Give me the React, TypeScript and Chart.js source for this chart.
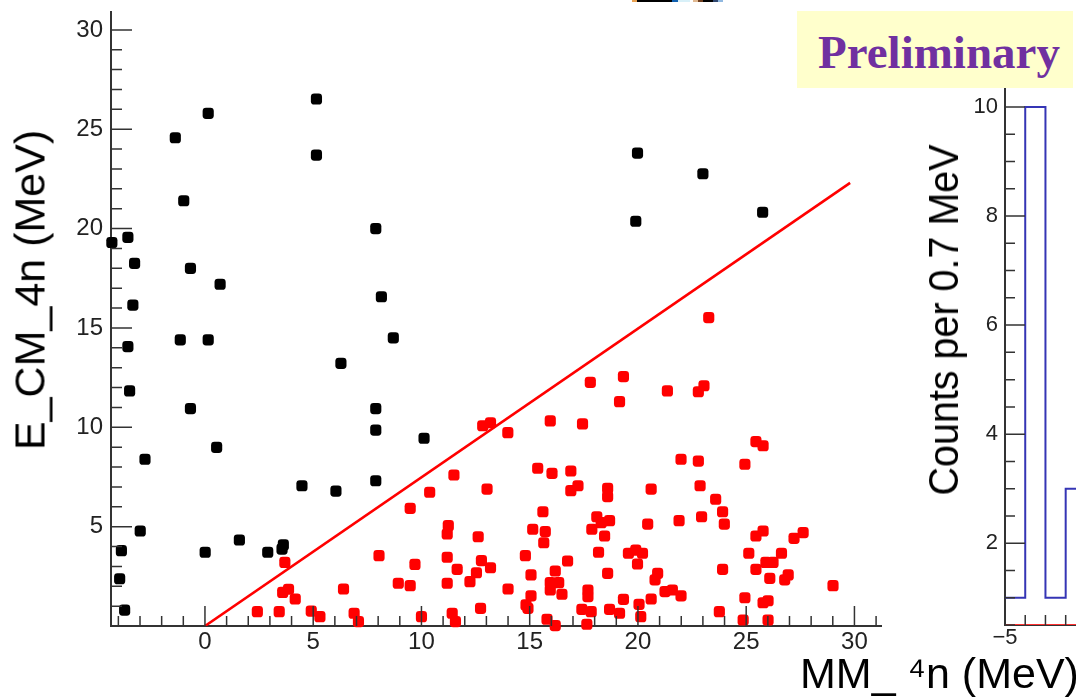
import React, { useEffect, useRef } from "react";
import { Chart, registerables } from "chart.js";

Chart.register(...registerables);

// ---- data ----
// events above the cut line (black)
const blackX = [-4.3, -3.56, -3.25, -3.33, -3.56, -1.37, 0.15, 5.15, 5.15, -0.98, -0.67, 0.7, -1.14, 0.15, 7.89, 8.15, 8.7, -3.48, -0.67, 6.28, 7.89, 7.89, -2.77, 0.54, 4.48, 6.05, 7.89, -2.99, -3.86, -3.94, -3.71, 1.59, 0.01, 2.9, 3.56, 3.62, 10.12, 19.98, 19.9, 23.0, 25.76];
const blackY = [19.3, 19.56, 18.25, 16.15, 14.06, 24.57, 25.8, 26.52, 23.7, 21.4, 18.0, 17.2, 14.4, 14.4, 20.0, 16.57, 14.5, 11.83, 10.94, 13.22, 10.94, 9.86, 8.39, 8.99, 7.06, 6.79, 7.31, 4.78, 3.79, 2.38, 0.8, 4.33, 3.71, 3.71, 3.87, 4.08, 9.45, 23.8, 20.37, 22.76, 20.82];

// events below the cut line (red)
const redX = [3.69, 3.59, 3.86, 4.17, 2.42, 3.43, 4.91, 5.31, 6.4, 6.89, 7.09, 8.04, 9.48, 8.93, 9.48, 9.7, 10.0,
  10.38, 11.5, 13.03, 12.83, 13.19, 13.99, 15.95, 17.44, 17.8, 19.33, 19.15,
  15.37, 16.03, 16.9, 17.23, 16.9, 18.6, 18.6,
  15.61, 15.14, 15.72, 15.65, 11.24, 11.19, 12.62,
  18.1, 18.3, 18.69, 17.87, 18.46, 18.18,
  11.19, 11.65, 12.77, 13.19, 12.54, 12.24, 11.19,
  14.8, 15.06, 16.18, 16.75, 15.95, 16.34, 15.95, 16.49, 14.0, 15.06, 14.83, 14.92,
  17.69, 17.69, 18.6, 19.33, 12.73, 11.42, 11.57, 15.8, 16.18, 17.41, 17.84, 17.64, 18.69, 19.15,
  21.36, 22.79, 23.05, 25.45, 25.78, 21.99, 22.79, 24.94,
  20.61, 22.87, 23.59, 23.91, 23.99, 20.45, 21.9, 22.94, 25.45, 25.78, 27.21, 27.63,
  19.56, 19.9, 20.21, 19.98, 20.91, 20.79, 25.12, 26.63, 25.91, 26.24, 25.45, 23.91, 26.09, 26.94, 26.78, 29.01,
  21.25, 21.59, 21.99, 20.61, 20.05, 20.13, 24.94, 25.78, 26.01, 23.76, 24.86, 26.01,
  23.27];
const redY = [3.2, 1.69, 1.85, 1.36, 0.72, 0.72, 0.75, 0.47, 1.86, 0.64, 0.22, 3.54, 5.92, 2.15, 2.03, 3.1, 0.47,
  6.73, 7.6, 6.89, 10.08, 10.23, 9.73, 10.32, 10.17, 12.26, 12.55, 11.29,
  7.94, 7.68, 7.8, 7.06, 6.81, 6.93, 6.51,
  5.75, 4.87, 4.75, 4.19, 5.05, 4.63, 4.49,
  5.5, 5.2, 5.3, 4.87, 4.53, 3.71,
  3.46, 2.85, 3.29, 2.93, 2.68, 2.23, 2.15,
  3.54, 2.57, 2.77, 3.27, 2.18, 2.18, 1.81, 1.6, 1.86, 1.52, 1.06, 0.89,
  1.81, 1.48, 2.65, 1.34, 0.89, 0.64, 0.22, 0.34, 0.02, 0.84, 0.72, 0.09, 0.84, 0.64,
  11.83, 11.79, 12.09, 9.28, 9.07, 8.39, 8.3, 8.14,
  6.89, 7.06, 6.38, 5.75, 5.13, 5.13, 5.3, 5.5, 4.53, 4.78, 4.41, 4.7,
  3.66, 3.82, 3.66, 3.12, 2.65, 2.32, 3.66, 3.66, 3.2, 3.2, 2.85, 2.85, 2.4, 2.57, 2.32, 2.03,
  1.73, 1.81, 1.52, 1.36, 1.09, 0.47, 1.42, 1.17, 1.27, 0.72, 0.3, 0.3,
  15.52];

// cut line
const cutX = [0, 29.8];
const cutY = [0, 22.3];

// right-hand histogram
const histEdges = [-5, -4, -3, -2, -1];
const histCounts = [1, 10, 1, 3];
const histEmptyCounts = [0, 0, 0, 0];

// axis ranges
const mainXRange = [-4.34, 31.25];
const mainYRange = [0, 30.9];
const histXRange = [-5, -1.49];
const histYRange = [0.5, 10.33];

const FONT = '"Liberation Sans", Arial, Helvetica, sans-serif';
const AXIS = "#333333";
const LABEL = "#222222";

const fmt = (v: number) => (v < 0 ? "\u2212" + Math.abs(v) : String(v));
const majorLabel = (step: number, skipZero: boolean) => (value: any) => {
  const v = Number(value);
  const r = Math.round(v);
  if (Math.abs(v - r) > 1e-6) return "";
  if (r % step !== 0) return "";
  if (skipZero && r === 0) return "";
  return fmt(r);
};

const fixBox = (w: number | null, h: number | null) => (s: any) => {
  if (w !== null) s.width = w;
  if (h !== null) s.height = h;
  s.paddingTop = 0;
  s.paddingBottom = 0;
  s.paddingLeft = 0;
  s.paddingRight = 0;
};

const insideTicks = {
  id: "insideTicks",
  afterDraw(chart: any, _args: any, o: any) {
    const { ctx, chartArea: a, scales } = chart;
    const xs = scales.x;
    const ys = scales.y;
    ctx.save();
    ctx.strokeStyle = o.color;
    ctx.lineWidth = o.width;
    ctx.beginPath();
    const near = (v: number, m: number) => Math.abs(v / m - Math.round(v / m)) < 1e-6;
    const sx = o.x.step;
    for (let i = Math.ceil(xs.min / sx - 1e-9); i * sx <= xs.max + 1e-9; i++) {
      const v = i * sx;
      const p = xs.getPixelForValue(v);
      const len = near(v, o.x.major) ? o.x.majorLen : o.x.minorLen;
      ctx.moveTo(p, a.bottom);
      ctx.lineTo(p, a.bottom - len);
    }
    const sy = o.y.step;
    for (let i = Math.ceil(ys.min / sy - 1e-9); i * sy <= ys.max + 1e-9; i++) {
      const v = i * sy;
      const p = ys.getPixelForValue(v);
      const len = near(v, o.y.major) ? o.y.majorLen : o.y.minorLen;
      ctx.moveTo(a.left, p);
      ctx.lineTo(a.left + len, p);
    }
    ctx.stroke();
    ctx.restore();
  },
};

function mainConfig(): any {
  const black = blackX.map((x, i) => ({ x, y: blackY[i] }));
  const red = redX.map((x, i) => ({ x, y: redY[i] }));
  const cut = cutX.map((x, i) => ({ x, y: cutY[i] }));
  return {
    type: "scatter",
    data: {
      datasets: [
        { label: "above", data: black, pointStyle: "rectRounded", pointRadius: 6.5, backgroundColor: "#000000", borderWidth: 0, clip: false },
        { label: "below", data: red, pointStyle: "rectRounded", pointRadius: 6.5, backgroundColor: "#ff0000", borderWidth: 0, clip: false },
        { type: "line", label: "cut", data: cut, borderColor: "#ff0000", borderWidth: 2.6, pointRadius: 0, showLine: true, fill: false },
      ],
    },
    plugins: [insideTicks],
    options: {
      animation: false,
      responsive: false,
      events: [],
      layout: { padding: { top: 12, left: 0, right: 0, bottom: 0 } },
      plugins: {
        legend: { display: false },
        tooltip: { enabled: false },
        insideTicks: {
          color: AXIS,
          width: 1.5,
          x: { step: 1, major: 5, majorLen: 20, minorLen: 10 },
          y: { step: 1, major: 5, majorLen: 21, minorLen: 11 },
        },
      },
      scales: {
        x: {
          type: "linear",
          min: mainXRange[0],
          max: mainXRange[1],
          grid: { display: false, drawTicks: false },
          border: { display: true, color: AXIS, width: 2 },
          ticks: { stepSize: 5, includeBounds: false, autoSkip: false, maxRotation: 0, padding: 2, color: LABEL, font: { family: FONT, size: 24 }, callback: majorLabel(5, false) },
          afterFit: fixBox(null, 74),
        },
        y: {
          type: "linear",
          min: mainYRange[0],
          max: mainYRange[1],
          grid: { display: false, drawTicks: false },
          border: { display: true, color: AXIS, width: 2 },
          ticks: { stepSize: 5, includeBounds: false, autoSkip: false, padding: 8, color: LABEL, font: { family: FONT, size: 24 }, callback: majorLabel(5, true) },
          afterFit: fixBox(111, null),
        },
      },
    },
  };
}

function histConfig(): any {
  const step = histEdges.map((x, i) => ({ x, y: histCounts[Math.min(i, histCounts.length - 1)] }));
  const empty = histEdges.map((x, i) => ({ x, y: Math.max(histEmptyCounts[Math.min(i, histEmptyCounts.length - 1)], histYRange[0]) }));
  return {
    type: "line",
    data: {
      datasets: [
        { label: "counts", data: step, stepped: "before", borderColor: "#3535b5", borderWidth: 2, pointRadius: 0, fill: false },
        { label: "empty", data: empty, stepped: "before", borderColor: "#ff3030", borderWidth: 2, pointRadius: 0, fill: false },
      ],
    },
    plugins: [insideTicks],
    options: {
      animation: false,
      responsive: false,
      events: [],
      layout: { padding: { top: 89, left: 0, right: 0, bottom: 0 } },
      plugins: {
        legend: { display: false },
        tooltip: { enabled: false },
        insideTicks: {
          color: AXIS,
          width: 1.5,
          x: { step: 1, major: 5, majorLen: 20, minorLen: 10 },
          y: { step: 0.5, major: 2, majorLen: 20, minorLen: 10 },
        },
      },
      scales: {
        x: {
          type: "linear",
          min: histXRange[0],
          max: histXRange[1],
          grid: { display: false, drawTicks: false },
          border: { display: true, color: AXIS, width: 2 },
          ticks: { stepSize: 5, includeBounds: false, autoSkip: false, maxRotation: 0, padding: 0, color: LABEL, font: { family: FONT, size: 22 }, callback: majorLabel(5, false) },
          afterFit: fixBox(null, 75),
        },
        y: {
          type: "linear",
          min: histYRange[0],
          max: histYRange[1],
          grid: { display: false, drawTicks: false },
          border: { display: true, color: AXIS, width: 2 },
          ticks: { stepSize: 2, includeBounds: false, autoSkip: false, padding: 7, color: LABEL, font: { family: FONT, size: 22 }, callback: majorLabel(2, true) },
          afterFit: fixBox(105, null),
        },
      },
    },
  };
}

export default function App() {
  const mainRef = useRef<HTMLCanvasElement>(null);
  const histRef = useRef<HTMLCanvasElement>(null);

  useEffect(() => {
    const c1 = new Chart(mainRef.current as HTMLCanvasElement, mainConfig());
    const c2 = new Chart(histRef.current as HTMLCanvasElement, histConfig());
    return () => {
      c1.destroy();
      c2.destroy();
    };
  }, []);

  const strip: Array<[number, number, string]> = [
    [632, 5, "#e8a050"], [637, 35, "#000000"], [672, 6, "#1060b0"], [678, 12, "#d8f0f8"],
    [693, 5, "#e0b890"], [698, 5, "#704020"], [703, 10, "#000000"], [713, 5, "#304870"], [718, 5, "#90b8e0"],
  ];

  return (
    <div style={{ position: "absolute", left: 0, top: 0, width: 1076, height: 700, overflow: "hidden", background: "#ffffff" }}>
      <canvas ref={mainRef} width={888} height={700} style={{ position: "absolute", left: 0, top: 0, width: 888, height: 700 }} />
      <canvas ref={histRef} width={176} height={700} style={{ position: "absolute", left: 900, top: 0, width: 176, height: 700 }} />

      {strip.map(([x, w, c], i) => (
        <div key={i} style={{ position: "absolute", left: x, top: 0, width: w, height: 2, background: c }} />
      ))}

      <div style={{ position: "absolute", left: 30, top: 290, transform: "translate(-50%, -50%) rotate(-90deg)", font: `43px ${FONT}`, lineHeight: 1, whiteSpace: "nowrap", color: "#000" }}>
        E_CM_4n (MeV)
      </div>

      <div style={{ position: "absolute", left: 943.5, top: 320, transform: "translate(-50%, -50%) rotate(-90deg) scaleX(0.94)", font: `42px ${FONT}`, lineHeight: 1, whiteSpace: "nowrap", color: "#000" }}>
        Counts per 0.7 MeV
      </div>

      <div style={{ position: "absolute", left: 800, top: 652, font: `43px ${FONT}`, lineHeight: 1, whiteSpace: "nowrap", color: "#000" }}>
        MM_ ⁴n (MeV)
      </div>

      <div style={{ position: "absolute", left: 797, top: 11, width: 276, height: 77, background: "#ffffcc" }}>
        <div style={{ position: "absolute", left: 21, top: 17.6, font: `bold 47px "Liberation Serif", "Times New Roman", serif`, lineHeight: 1, whiteSpace: "nowrap", color: "#7030a0" }}>
          Preliminary
        </div>
      </div>
    </div>
  );
}
